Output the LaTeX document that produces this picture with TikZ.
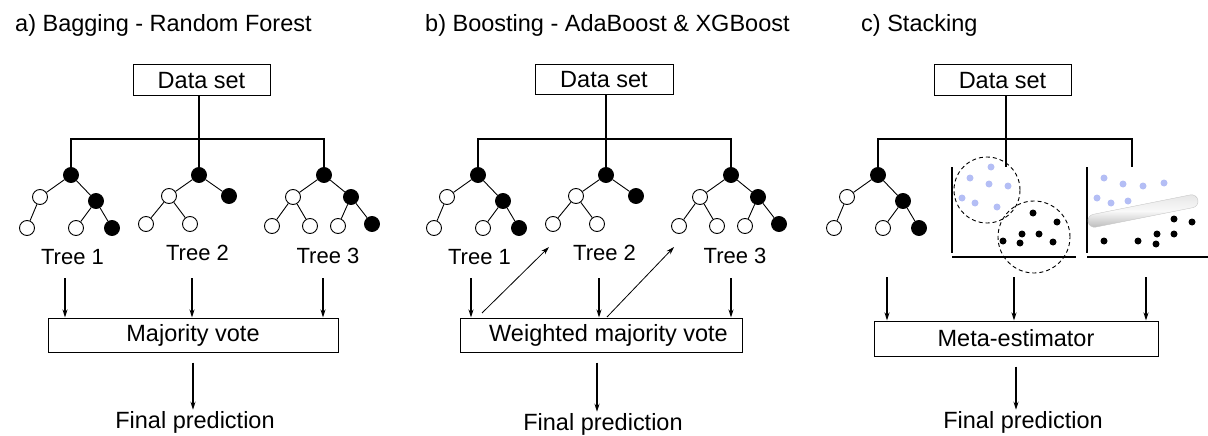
\documentclass[tikz,border=0pt]{standalone}
\usepackage{fontspec}
\setmainfont{Liberation Sans}
\usetikzlibrary{arrows.meta}
\definecolor{ptblue}{RGB}{180,190,245}
\begin{document}
\begin{tikzpicture}[x=1pt,y=-1pt,
  lbl/.style={inner sep=1pt, font=\fontsize{23.5}{28}\selectfont},
  ttl/.style={lbl, inner sep=0pt, anchor=base west},
  treelbl/.style={lbl, anchor=base, font=\fontsize{22}{26}\selectfont},
  box/.style={lbl, draw, line width=1pt, inner sep=0pt},
  vtx/.style={circle, draw, line width=0.9pt, minimum size=15pt, inner sep=0pt},
  blk/.style={vtx, fill=black},
  wht/.style={vtx, fill=white},
  edge/.style={line width=0.9pt},
  trunk/.style={line width=1.8pt},
  arr/.style={line width=1.5pt, -{Stealth[length=8pt,width=5pt]}},
  thinarr/.style={line width=0.8pt, -{Stealth[length=8pt,width=5pt]}},
  axisv/.style={line width=1.6pt},
  axish/.style={line width=2.2pt},
  region/.style={line width=0.9pt, dash pattern=on 4pt off 3pt},
  tube/.style={rounded corners=6.5pt, draw=gray!45, line width=0.4pt,
    top color=gray!20, bottom color=gray!55, middle color=gray!5}
]
\useasboundingbox (0,0) rectangle (1208,436);

% panel titles
\node[ttl] (ta) at (15,32) {a) Bagging - Random Forest};
\node[ttl] (tb) at (425,32) {b) Boosting - AdaBoost \& XGBoost};
\node[ttl] (tc) at (861,32) {c) Stacking};

% data set boxes
\node[box, minimum width=137pt, minimum height=31pt] (a-ds) at (201.5,80.5) {Data set};
\node[box, minimum width=138pt, minimum height=30pt] (b-ds) at (604,80) {Data set};
\node[box, minimum width=137pt, minimum height=31pt] (c-ds) at (1002.5,80.5) {Data set};

% three decision trees for bagging and boosting
\foreach \p/\s in {a/0,b/407}{
  \begin{scope}[xshift=\s pt]
    \coordinate (\p-j) at (199,139);
    % tree 1
    \node[blk] (\p-1r)  at (71,175) {};
    \node[wht] (\p-1L)  at (40,197) {};
    \node[blk] (\p-1R)  at (96,201) {};
    \node[wht] (\p-1LL) at (27,228) {};
    \node[wht] (\p-1RL) at (76,228) {};
    \node[blk] (\p-1RR) at (112,228) {};
    \draw[edge] (\p-1LL) -- (\p-1L) -- (\p-1r) -- (\p-1R) -- (\p-1RR);
    \draw[edge] (\p-1R) -- (\p-1RL);
    % tree 2
    \node[blk] (\p-2r)  at (199,175) {};
    \node[wht] (\p-2L)  at (169,196) {};
    \node[blk] (\p-2R)  at (229,196) {};
    \node[wht] (\p-2LL) at (146,224) {};
    \node[wht] (\p-2LR) at (190,224) {};
    \draw[edge] (\p-2LL) -- (\p-2L) -- (\p-2r) -- (\p-2R);
    \draw[edge] (\p-2L) -- (\p-2LR);
    % tree 3
    \node[blk] (\p-3r)  at (324,175) {};
    \node[wht] (\p-3L)  at (293,197) {};
    \node[blk] (\p-3R)  at (351,197) {};
    \node[wht] (\p-3LL) at (272,226) {};
    \node[wht] (\p-3LR) at (310,226) {};
    \node[wht] (\p-3RL) at (338,226) {};
    \node[blk] (\p-3RR) at (372,224) {};
    \draw[edge] (\p-3LL) -- (\p-3L) -- (\p-3r) -- (\p-3R) -- (\p-3RR);
    \draw[edge] (\p-3L) -- (\p-3LR);
    \draw[edge] (\p-3R) -- (\p-3RL);
    % labels
    \node[treelbl] (\p-t1) at (72.5,264) {Tree 1};
    \node[treelbl] (\p-t2) at (197.5,260) {Tree 2};
    \node[treelbl] (\p-t3) at (328,263) {Tree 3};
  \end{scope}
  % split of the data set
  \draw[trunk] (\p-ds.south -| \p-2r) -- (\p-2r);
  \draw[trunk] (\p-1r) -- (\p-1r |- \p-j) -- (\p-3r |- \p-j) -- (\p-3r);
}

% combination boxes
\node[box, minimum width=290pt, minimum height=34pt] (a-mv) at (193,335) {Majority vote};
\node[box, minimum width=282pt, minimum height=34pt] (b-mv) at (601,335) {};
\node[lbl] (b-mvt) at (608.5,335) {Weighted majority vote};
\node[box, minimum width=284pt, minimum height=35pt] (c-mv) at (1016,338.5) {Meta-estimator};

% final predictions
\node[lbl, anchor=base] (a-fp) at (195,428) {Final prediction};
\node[lbl, anchor=base] (b-fp) at (603,430) {Final prediction};
\node[lbl, anchor=base] (c-fp) at (1023,428) {Final prediction};

% arrows into the combination boxes
\coordinate (a-v1) at (65,278);
\coordinate (a-v2) at (192,278);
\coordinate (a-v3) at (323,278);
\coordinate (b-v1) at (471,278);
\coordinate (b-v2) at (599,278);
\coordinate (b-v3) at (731,278);
\coordinate (c-v1) at (887,277);
\coordinate (c-v2) at (1014,277);
\coordinate (c-v3) at (1146,277);
\foreach \p in {a,b,c}{
  \foreach \i in {1,2,3}{
    \draw[arr] (\p-v\i) -- (\p-v\i |- \p-mv.north);
  }
}

% boosting: errors passed on to the next tree
\coordinate (b-d1s) at (482,313);
\coordinate (b-d1e) at (549,247);
\coordinate (b-d2s) at (607,317);
\coordinate (b-d2e) at (674,247);
\draw[thinarr] (b-d1s) -- (b-d1e);
\draw[thinarr] (b-d2s) -- (b-d2e);

% arrows to the final predictions
\draw[arr, shorten <=10pt] (a-mv.south) -- (a-mv.south |- a-fp.north);
\draw[arr, shorten <=10pt] ([xshift=-4pt]b-mv.south) -- ([xshift=-4pt]b-mv.south |- b-fp.north);
\draw[arr, shorten <=10pt] (c-mv.south) -- (c-mv.south |- c-fp.north);

% stacking: a tree and two further estimators
\begin{scope}[xshift=807pt]
  \node[blk] (c-1r)  at (71,175) {};
  \node[wht] (c-1L)  at (40,197) {};
  \node[blk] (c-1R)  at (96,201) {};
  \node[wht] (c-1LL) at (27,228) {};
  \node[wht] (c-1RL) at (76,228) {};
  \node[blk] (c-1RR) at (112,228) {};
  \draw[edge] (c-1LL) -- (c-1L) -- (c-1r) -- (c-1R) -- (c-1RR);
  \draw[edge] (c-1R) -- (c-1RL);
\end{scope}
\coordinate (c-j) at (1006,139);
\coordinate (c-s1) at (1006,167);
\coordinate (c-s2) at (1132,167);
\draw[trunk] (c-ds.south -| c-j) -- (c-s1);
\draw[trunk] (c-1r) -- (c-1r |- c-j) -- (c-s2 |- c-j) -- (c-s2);

% clustering estimator
\draw[axisv] (952,167) -- (952,253);
\draw[axish] (952,257) -- (1076,257);
\draw[region] (987,190) circle[radius=33pt];
\draw[region] (1034,237) circle[radius=36pt];
\foreach \x/\y in {991/167, 970/178, 989/184, 1008/186, 962/198, 975/203, 997/207}
  \fill[ptblue] (\x,\y) circle[radius=3.5pt];
\foreach \x/\y in {1033/213, 1057/222, 1022/234, 1039/234, 1003/241, 1020/243, 1053/242}
  \fill[black] (\x,\y) circle[radius=3.5pt];

% linear separator estimator
\draw[axisv] (1087,167) -- (1087,253);
\draw[axish] (1087,257) -- (1208,257);
\node[tube, rotate=11.3, minimum width=112pt, minimum height=13pt, inner sep=0pt] (c-tube) at (1143,211) {};
\foreach \x/\y in {1104/178, 1123/184, 1143/186, 1164/183, 1097/198, 1111/203, 1128/201}
  \fill[ptblue] (\x,\y) circle[radius=3.5pt];
\foreach \x/\y in {1174/219, 1192/222, 1157/234, 1174/234, 1104/241, 1138/241, 1156/244}
  \fill[black] (\x,\y) circle[radius=3.5pt];
\end{tikzpicture}
\end{document}
